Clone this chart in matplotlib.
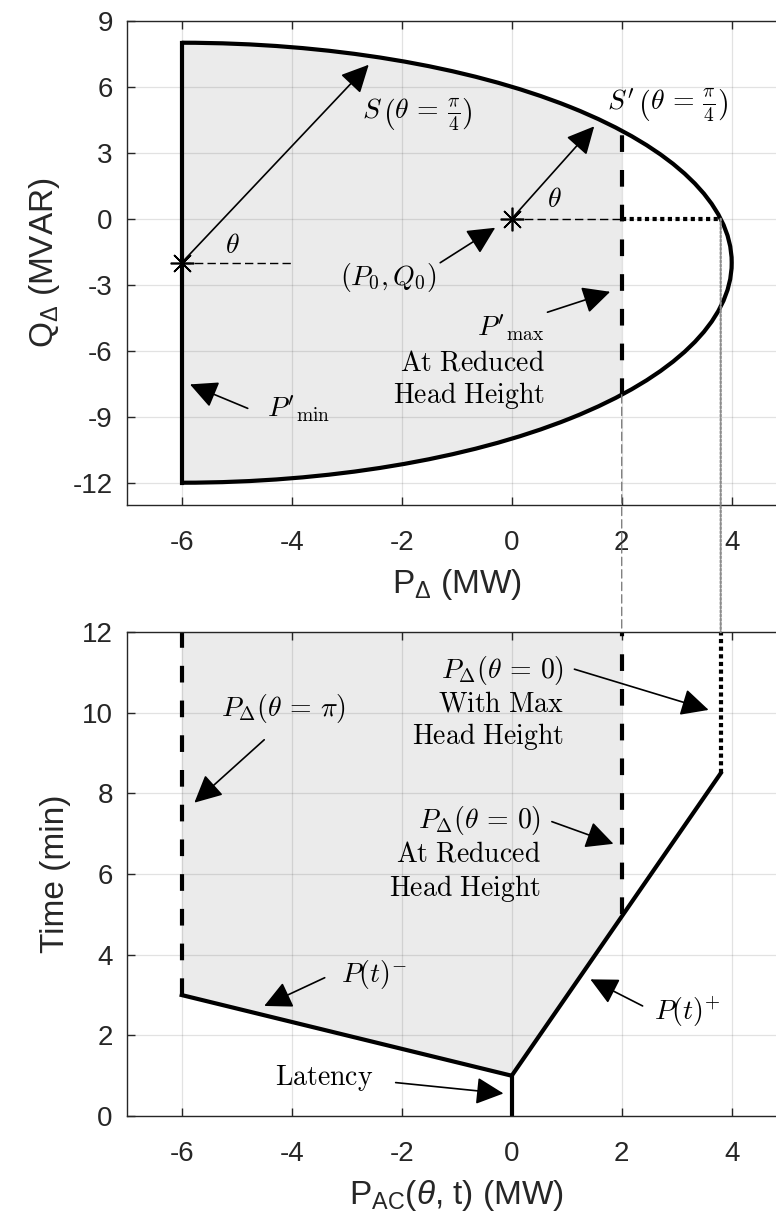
import matplotlib
matplotlib.use('Agg')
import matplotlib.pyplot as plt
from matplotlib.patches import Circle, Rectangle, Arc, Polygon, ConnectionPatch

plt.rcParams['font.family'] = ['Liberation Sans', 'DejaVu Sans']
plt.rcParams['axes.unicode_minus'] = False
plt.rcParams['lines.scale_dashes'] = False
plt.rcParams['mathtext.fontset'] = 'custom'
plt.rcParams['mathtext.rm'] = 'Liberation Sans'
plt.rcParams['mathtext.it'] = 'Liberation Sans:italic'
plt.rcParams['mathtext.bf'] = 'Liberation Sans:bold'

# --- top panel: PQ capability ---
circle_center = (-6, -2)
circle_radius = 10
p_min = -6
q_at_pmin = [-12, 8]
p_max_reduced = 2
q_at_pmax_reduced = [-8, 4]
p_max_full = 3.8
op_points_p = [-6, 0]
op_points_q = [-2, 0]

# --- bottom panel: power vs time ---
latency_p = [0, 0]
latency_t = [0, 1]
ramp_down_p = [0, -6]
ramp_down_t = [1, 3]
ramp_up_p = [0, 3.8]
ramp_up_t = [1, 8.5]
pmin_t = [3, 12]
pmax_reduced_t = [5, 12]
pmax_full_t = [8.5, 12]
region_p = [-6, -6, 2, 2, 0]
region_t = [3, 12, 12, 5, 1]

FILL = '#ebebeb'
AXC = '#262626'
LW = 3
THICK_DASH = (12, 13)
THIN_DASH = (6, 3)
DOT = (3, 2.5)

fig = plt.figure(figsize=(7.76, 12.2), dpi=100)
ax1 = fig.add_axes([0.1633, 0.5863, 0.8505, 0.3967])
ax2 = fig.add_axes([0.1633, 0.0852, 0.8505, 0.3967])


def style(ax):
    ax.tick_params(direction='in', length=6, width=1, colors=AXC, labelsize=20,
                   top=True, right=True)
    ax.tick_params(axis='x', pad=18)
    ax.tick_params(axis='y', pad=10)
    for s in ax.spines.values():
        s.set_color(AXC)
        s.set_linewidth(1)
    ax.grid(True, color=(0.15, 0.15, 0.15), alpha=0.13, lw=0.9)
    ax.set_axisbelow('line')


def arrow(ax, tail, head):
    ax.annotate('', xy=head, xytext=tail, annotation_clip=False,
                arrowprops=dict(arrowstyle='-|>,head_length=0.85,head_width=0.42',
                                mutation_scale=20, lw=1.2, color='k',
                                shrinkA=0, shrinkB=0))


def label(ax, x, y, s, ha='left'):
    ax.text(x, y, s, fontsize=20, math_fontfamily='cm', ha=ha, va='baseline')


# top panel
style(ax1)
clip = Rectangle((p_min, -13), p_max_reduced - p_min, 22, transform=ax1.transData)
disk = Circle(circle_center, circle_radius, facecolor=FILL, edgecolor='none', zorder=0.8)
ax1.add_patch(disk)
disk.set_clip_path(clip)
ax1.add_patch(Arc(circle_center, 2 * circle_radius, 2 * circle_radius, theta1=-90, theta2=90,
                  color='k', lw=LW, zorder=2))
ax1.plot([p_min, p_min], q_at_pmin, color='k', lw=LW, solid_capstyle='projecting')
ax1.plot([p_max_reduced, p_max_reduced], q_at_pmax_reduced, color='k', lw=LW, dashes=THICK_DASH)
ax1.plot([op_points_p[0], -4], [op_points_q[0]] * 2, color='k', lw=1, dashes=THIN_DASH)
ax1.plot([op_points_p[1], p_max_reduced], [op_points_q[1]] * 2, color='k', lw=1, dashes=THIN_DASH)
ax1.plot([p_max_reduced, p_max_full], [0, 0], color='k', lw=LW, dashes=DOT)
ax1.plot(op_points_p, op_points_q, ls='none', marker=(8, 2, 0), ms=17, mew=1.2, color='k', zorder=3)

arrow(ax1, (-6, -2), (-2.6, 7.0))
arrow(ax1, (0, 0), (1.5, 4.2))
arrow(ax1, (-1.3, -2.0), (-0.3, -0.41))
arrow(ax1, (0.65, -4.25), (1.79, -3.32))
arrow(ax1, (-4.8, -8.62), (-5.85, -7.53))

label(ax1, -2.73, 4.56, r'$S\,\left(\theta\,=\,\frac{\pi}{4}\right)$')
label(ax1, 1.73, 4.97, r"$S'\,\left(\theta\,=\,\frac{\pi}{4}\right)$")
label(ax1, -5.21, -1.55, r'$\theta$')
label(ax1, 0.65, 0.52, r'$\theta$')
label(ax1, -3.12, -3.01, r'$(P_0,Q_0)$')
label(ax1, 0.6, -5.33, r"$P'_{\mathrm{max}}$", ha='right')
label(ax1, 0.6, -6.88, r'$\mathrm{At\ Reduced}$', ha='right')
label(ax1, 0.6, -8.39, r'$\mathrm{Head\ Height}$', ha='right')
label(ax1, -4.45, -9.0, r"$P'_{\mathrm{min}}$")

ax1.set_xlim(-7, 5)
ax1.set_ylim(-13, 9)
ax1.set_xticks([-6, -4, -2, 0, 2, 4])
ax1.set_yticks([-12, -9, -6, -3, 0, 3, 6, 9])
ax1.set_xlabel(r'P$_{\Delta}$ (MW)', fontsize=24, color=AXC, labelpad=8)
ax1.set_ylabel(r'Q$_{\Delta}$ (MVAR)', fontsize=24, color=AXC, labelpad=8)

# bottom panel
style(ax2)
ax2.add_patch(Polygon(list(zip(region_p, region_t)), closed=True, facecolor=FILL,
                      edgecolor='none', zorder=0.8))
ax2.plot(latency_p, latency_t, color='k', lw=LW)
ax2.plot(ramp_down_p, ramp_down_t, color='k', lw=LW)
ax2.plot(ramp_up_p, ramp_up_t, color='k', lw=LW)
ax2.plot([p_min, p_min], pmin_t, color='k', lw=LW, dashes=THICK_DASH)
ax2.plot([p_max_reduced, p_max_reduced], pmax_reduced_t, color='k', lw=LW, dashes=THICK_DASH)
ax2.plot([p_max_full, p_max_full], pmax_full_t, color='k', lw=LW, dashes=DOT)

arrow(ax2, (-4.5, 9.33), (-5.77, 7.77))
arrow(ax2, (1.14, 11.08), (3.58, 10.07))
arrow(ax2, (0.73, 7.3), (1.85, 6.75))
arrow(ax2, (-3.4, 3.43), (-4.5, 2.73))
arrow(ax2, (2.38, 2.73), (1.43, 3.39))
arrow(ax2, (-2.11, 0.83), (-0.15, 0.56))

label(ax2, -5.29, 9.91, r'$P_{\Delta}(\theta\,=\,\pi)$')
label(ax2, 0.95, 10.86, r'$P_{\Delta}(\theta\,=\,0)$', ha='right')
label(ax2, 0.95, 10.04, r'$\mathrm{With\ Max}$', ha='right')
label(ax2, 0.95, 9.22, r'$\mathrm{Head\ Height}$', ha='right')
label(ax2, 0.53, 7.13, r'$P_{\Delta}(\theta\,=\,0)$', ha='right')
label(ax2, 0.53, 6.31, r'$\mathrm{At\ Reduced}$', ha='right')
label(ax2, 0.53, 5.46, r'$\mathrm{Head\ Height}$', ha='right')
label(ax2, -3.1, 3.33, r'$P(t)^{-}$')
label(ax2, 2.58, 2.38, r'$P(t)^{+}$')
label(ax2, -4.31, 0.77, r'$\mathrm{Latency}$')

ax2.set_xlim(-7, 5)
ax2.set_ylim(0, 12)
ax2.set_xticks([-6, -4, -2, 0, 2, 4])
ax2.set_yticks([0, 2, 4, 6, 8, 10, 12])
ax2.set_xlabel(r'P$_{\mathrm{AC}}$($\theta$, t) (MW)', fontsize=24, color=AXC, labelpad=8)
ax2.set_ylabel('Time (min)', fontsize=24, color=AXC, labelpad=8)

# guide lines linking the two panels
fig.add_artist(ConnectionPatch(xyA=(p_max_reduced, q_at_pmax_reduced[0]), coordsA=ax1.transData,
                               xyB=(p_max_reduced, 12), coordsB=ax2.transData,
                               color='0.5', lw=1, linestyle=(0, THIN_DASH)))
fig.add_artist(ConnectionPatch(xyA=(p_max_full, 0), coordsA=ax1.transData,
                               xyB=(p_max_full, 12), coordsB=ax2.transData,
                               color='0.55', lw=1.6, linestyle=(0, (1.5, 1.5))))

fig.savefig('out.png', dpi=100)
